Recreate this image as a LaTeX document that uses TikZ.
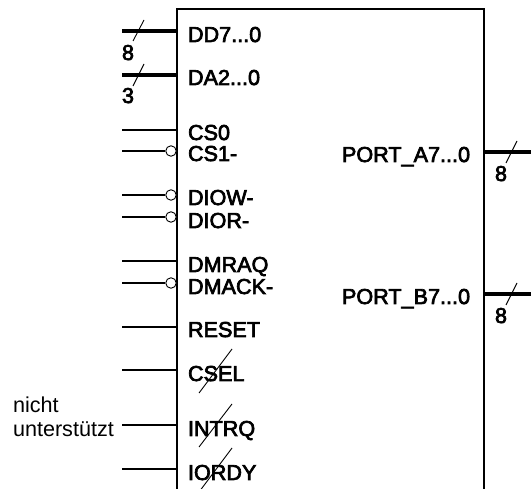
\documentclass[tikz,border=0pt]{standalone}
\usepackage{fontspec}
\setmainfont{Liberation Sans}
\newfontfamily\boldish[FakeBold=3.2]{Liberation Sans}
\tikzset{
  x=1pt,y=-1pt,
  pinlabel/.style={anchor=base west,inner sep=0pt,outer sep=0pt,font=\boldish\fontsize{21.6}{23}\selectfont},
  plaintext/.style={anchor=base west,inner sep=0pt,outer sep=0pt,font=\fontsize{21.6}{23}\selectfont},
  chip/.style={line width=2.2pt,line join=miter},
  thinpin/.style={line width=2pt},
  buspin/.style={line width=4.6pt},
  tick/.style={line width=0.9pt},
  bubble/.style={circle,draw,line width=0.9pt,fill=white,minimum size=10.5pt,inner sep=0pt},
}
\begin{document}
\begin{tikzpicture}
\useasboundingbox (0,0) rectangle (531,489);
\clip (0,0) rectangle (531,489);
% chip outline
\coordinate (bl) at (177,495);
\coordinate (tl) at (177,9);
\coordinate (tr) at (484,9);
\coordinate (br) at (484,495);
\draw[chip] (bl) -- (tl) -- (tr) -- (br);
% left pins: free ends and chip ends
\foreach \n/\y in {dd/31,da/75,csa/130,csb/151,diow/195,dior/217,dmrq/261,dmak/283,rst/327,csel/370,intr/425,iord/469}{
  \coordinate (\n-o) at (122,\y);
  \coordinate (\n-c) at (177,\y);
}
\draw[buspin] (dd-o) -- (dd-c);
\draw[buspin,line width=4pt] (da-o) -- (da-c);
\foreach \n in {csa,dmrq,rst,csel,intr,iord}{\draw[thinpin] (\n-o) -- (\n-c);}
\foreach \n in {csb,diow,dior,dmak}{
  \node[bubble] (\n-b) at ([xshift=-6pt]\n-c) {};
  \draw[thinpin] (\n-o) -- (\n-b);
}
% right pins
\coordinate (pa-c) at (484,152);\coordinate (pa-o) at (531,152);
\coordinate (pb-c) at (484,294);\coordinate (pb-o) at (531,294);
\draw[buspin] (pa-c) -- (pa-o);
\draw[buspin] (pb-c) -- (pb-o);
% bus ticks
\draw[tick] (133,41) -- (144,20);
\draw[tick] (133,86) -- (144,64);
\draw[tick] (506,163) -- (517,141);
\draw[tick] (506,305) -- (517,283);
% labels
\node[pinlabel] (l1) at (188,42) {DD7...0};
\node[pinlabel] (l2) at (188,85) {DA2...0};
\node[pinlabel] (l3) at (188,140) {CS0};
\node[pinlabel] (l4) at (188,161) {CS1-};
\node[pinlabel] (l5) at (188,205) {DIOW-};
\node[pinlabel] (l6) at (188,228) {DIOR-};
\node[pinlabel] (l7) at (188,272) {DMRAQ};
\node[pinlabel] (l8) at (188,294) {DMACK-};
\node[pinlabel] (l9) at (188,337) {RESET};
\node[pinlabel] (l10) at (188,381) {CSEL};
\node[pinlabel] (l11) at (188,436) {INTRQ};
\node[pinlabel] (l12) at (188,480) {IORDY};
\node[pinlabel] (r1) at (342,162) {PORT\_A7...0};
\node[pinlabel] (r2) at (342,304) {PORT\_B7...0};
\node[pinlabel] (w1) at (122,60) {8};
\node[pinlabel] (w2) at (122,103) {3};
\node[pinlabel] (w3) at (495,181) {8};
\node[pinlabel] (w4) at (495,323) {8};
\node[plaintext] (n1) at (13,413) {nicht};
\node[plaintext] (n2) at (13,437) {unterstützt};
% strike-outs
\draw[tick] (199,393) -- (232,349);
\draw[tick] (199,447) -- (232,404);
\draw[tick] (199,492) -- (232,448);
\end{tikzpicture}
\end{document}
